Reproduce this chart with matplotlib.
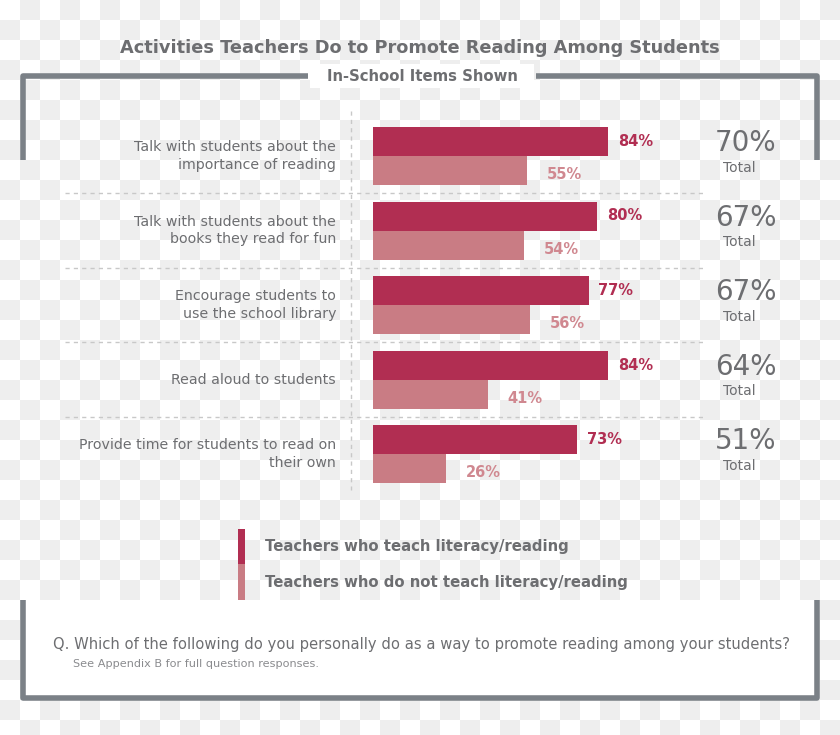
import numpy as np
import matplotlib
matplotlib.use("Agg")
import matplotlib.pyplot as plt
from matplotlib.patches import Rectangle

# data
categories = [
    "Talk with students about the\nimportance of reading",
    "Talk with students about the\nbooks they read for fun",
    "Encourage students to\nuse the school library",
    "Read aloud to students",
    "Provide time for students to read on\ntheir own",
]
teach_lit = [84, 80, 77, 84, 73]
not_teach_lit = [55, 54, 56, 41, 26]
totals = [70, 67, 67, 64, 51]
series_names = ["Teachers who teach literacy/reading",
                "Teachers who do not teach literacy/reading"]

DARK = "#b12e52"
LIGHT = "#c97c84"
LIGHT_TXT = "#d08890"
GRAY = "#6d6e71"
FRAME = "#7b8187"

plt.rcParams['font.family'] = ['DejaVu Sans']

W, H = 840, 735
fig = plt.figure(figsize=(W / 100, H / 100), dpi=100)

# full-figure axes in pixel coords for decoration
ax0 = fig.add_axes([0, 0, 1, 1])
ax0.set_xlim(0, W)
ax0.set_ylim(H, 0)
ax0.axis("off")

# checkered background (as in the reference image)
yy, xx = np.mgrid[0:H, 0:W]
checker = np.where(((xx // 20) + (yy // 20)) % 2 == 1, 238, 255).astype(np.uint8)
ax0.imshow(np.dstack([checker] * 3), extent=[0, W, H, 0], zorder=0, aspect="auto",
           interpolation="nearest")

# top bracket
lw = 4
ax0.plot([23, 23, 308], [160, 76, 76], color=FRAME, lw=lw, solid_capstyle="butt", zorder=2)
ax0.plot([536, 817, 817], [76, 76, 160], color=FRAME, lw=lw, solid_capstyle="butt", zorder=2)
ax0.add_patch(Rectangle((310, 64), 224, 24, facecolor="white", edgecolor="none", zorder=1))

# bottom box
ax0.add_patch(Rectangle((23, 600), 794, 98, facecolor="white", edgecolor="none", zorder=1))
ax0.plot([23, 23, 817, 817], [600, 698, 698, 600], color=FRAME, lw=lw, solid_capstyle="butt", zorder=2)

ax0.text(420, 48, "Activities Teachers Do to Promote Reading Among Students",
         ha="center", va="center", fontsize=12.8, fontweight="bold", color=GRAY)
ax0.text(422, 76, "In-School Items Shown", ha="center", va="center",
         fontsize=10.7, fontweight="bold", color=GRAY, zorder=3)

# vertical dashed axis line
ax0.plot([351, 351], [111, 490], color="#c8c8c8", lw=1, ls=(0, (3, 3)), zorder=2)

# legend
ax0.add_patch(Rectangle((238, 529), 7, 35, facecolor=DARK, edgecolor="none", zorder=2))
ax0.add_patch(Rectangle((238, 564), 7, 36, facecolor=LIGHT, edgecolor="none", zorder=2))
ax0.text(265, 546, series_names[0], ha="left", va="center",
         fontsize=10.7, fontweight="bold", color=GRAY)
ax0.text(265, 582, series_names[1], ha="left", va="center",
         fontsize=10.7, fontweight="bold", color=GRAY)

ax0.text(53, 645, "Q. Which of the following do you personally do as a way to promote reading among your students?",
         ha="left", va="center", fontsize=10.6, color=GRAY, zorder=3)
ax0.text(73, 664, "See Appendix B for full question responses.",
         ha="left", va="center", fontsize=8.1, color="#8a8b8e", zorder=3)

# bar axes: x 0..100 over 280 px starting at 373; each group 74.5 px
px_per_unit = 74.5
y0 = 156 - px_per_unit / 2
n = len(categories)
ax = fig.add_axes([373 / W, 1 - (y0 + n * px_per_unit) / H, 280 / W, n * px_per_unit / H])
ax.set_zorder(3)
ax.patch.set_visible(False)
ax.set_xlim(0, 100)
ax.set_ylim(n - 0.5, -0.5)
ax.axis("off")

ypos = np.arange(n)
bh = 29 / px_per_unit
ax.barh(ypos - bh / 2, teach_lit, height=bh, color=DARK)
ax.barh(ypos + bh / 2, not_teach_lit, height=bh, color=LIGHT)

for i in range(n):
    ax.text(teach_lit[i] + 3.5, i - bh / 2, f"{teach_lit[i]}%", ha="left", va="center",
            fontsize=10.5, fontweight="bold", color=DARK)
    ax.text(not_teach_lit[i] + 7, i + bh / 2 + 0.06, f"{not_teach_lit[i]}%", ha="left", va="center",
            fontsize=10.5, fontweight="bold", color=LIGHT_TXT)
    ax.text(-13.2, i, categories[i], ha="right", va="center", multialignment="right",
            fontsize=10.2, color=GRAY, linespacing=1.35)
    ax.text(133, i - 0.17, f"{totals[i]}%", ha="center", va="center", fontsize=20, color=GRAY)
    ax.text(131, i + 0.16, "Total", ha="center", va="center", fontsize=10, color=GRAY)

# dotted separators between groups
for i in range(n - 1):
    ax.plot([-110, 118.5], [i + 0.5, i + 0.5], color="#c8c8c8", lw=1, ls=(0, (3, 3)), clip_on=False)

fig.savefig("out.png", dpi=100)
